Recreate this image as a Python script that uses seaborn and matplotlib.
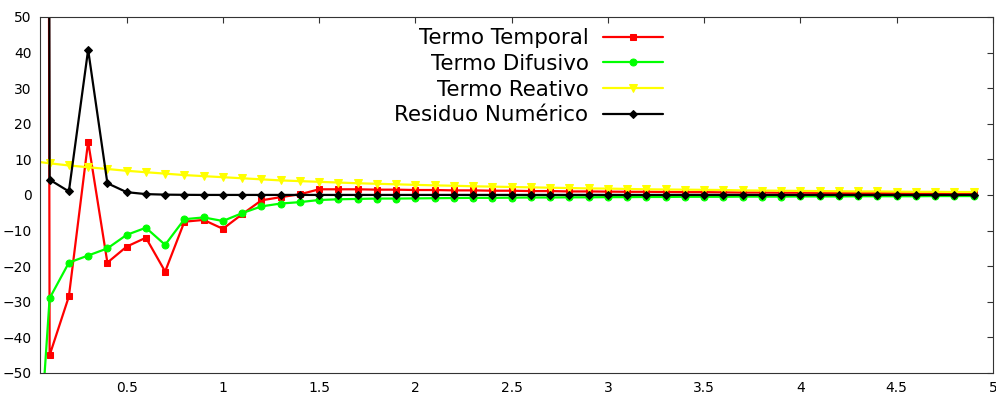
import numpy as np
import matplotlib
matplotlib.use("Agg")
import matplotlib.pyplot as plt
import seaborn as sns

# time grid (0.0 .. 4.9, step 0.1)
t = np.round(np.arange(0, 5.0, 0.1), 1)

temporal = [3000, -45, -28.5, 15, -19, -14.5, -12, -21.5, -7.5, -7, -9.5,
            -5.4, -1.5, -0.6, 0.2, 1.6, 1.6, 1.6, 1.5, 1.5, 1.4,
            1.4, 1.3, 1.3, 1.2, 1.2, 1.1, 1.1, 1.0, 1.0, 0.95,
            0.9, 0.9, 0.85, 0.8, 0.8, 0.75, 0.7, 0.7, 0.65, 0.65,
            0.6, 0.6, 0.55, 0.55, 0.5, 0.5, 0.5, 0.45, 0.45]

difusivo = [-110, -29, -19, -17, -15, -11.2, -9.2, -14, -6.8, -6.3, -7.3,
            -5.1, -3.2, -2.4, -2.0, -1.4, -1.2, -1.1, -1.0, -1.0, -0.95,
            -0.9, -0.85, -0.8, -0.8, -0.75, -0.7, -0.7, -0.65, -0.65, -0.6,
            -0.6, -0.55, -0.55, -0.5, -0.5, -0.5, -0.45, -0.45, -0.45, -0.4,
            -0.4, -0.4, -0.35, -0.35, -0.35, -0.35, -0.3, -0.3, -0.3]

reativo = [9.6, 8.9, 8.3, 7.8, 7.3, 6.8, 6.4, 6.0, 5.6, 5.3, 5.0,
           4.7, 4.4, 4.1, 3.9, 3.7, 3.5, 3.3, 3.15, 3.0, 2.85,
           2.7, 2.6, 2.45, 2.35, 2.25, 2.15, 2.05, 1.95, 1.85, 1.8,
           1.7, 1.6, 1.55, 1.5, 1.45, 1.4, 1.3, 1.25, 1.2, 1.15,
           1.1, 1.05, 1.0, 1.0, 0.95, 0.9, 0.9, 0.85, 0.85]

residuo = [3000, 4.3, 1.0, 40.8, 3.3, 0.8, 0.25, 0.1, 0.05, 0.02, 0.02,
           0.02, 0.02, 0.02, 0.02, 0.02, 0.02, 0.02, 0.02, 0.02, 0.02,
           0.02, 0.02, 0.02, 0.02, 0.02, 0.02, 0.02, 0.02, 0.02, 0.02,
           0.02, 0.02, 0.02, 0.02, 0.02, 0.02, 0.02, 0.02, 0.02, 0.02,
           0.02, 0.02, 0.02, 0.02, 0.02, 0.02, 0.02, 0.02, 0.02]

series = [
    ("Termo Temporal", temporal, "#ff0000", "s", 5),
    ("Termo Difusivo", difusivo, "#00ff00", "o", 5),
    ("Termo Reativo", reativo, "#ffff00", "v", 6),
    ("Residuo Numérico", residuo, "#000000", "D", 4),
]

sns.set_style("white")
plt.rcParams['font.family'] = ['DejaVu Sans']
plt.rcParams['text.color'] = 'black'

fig = plt.figure(figsize=(9.96, 3.94), dpi=100)
ax = fig.add_axes([40 / 996, 21 / 394, 953 / 996, 356 / 394])

for name, vals, col, mk, ms in series:
    sns.lineplot(x=t, y=vals, ax=ax, color=col, marker=mk, markersize=ms,
                 markeredgecolor=col, linewidth=1.6, label=name, sort=True)

ax.set_xlim(0.05, 5)
ax.set_ylim(-50, 50)
ax.set_xticks([0.5, 1, 1.5, 2, 2.5, 3, 3.5, 4, 4.5, 5])
ax.set_xticklabels(["0.5", "1", "1.5", "2", "2.5", "3", "3.5", "4", "4.5", "5"])
ax.set_yticks(np.arange(-50, 51, 10))
ax.tick_params(direction='in', length=4, width=0.8, top=True, right=True,
               labelsize=10, colors='#333333', labelcolor='black', pad=6)
for sp in ax.spines.values():
    sp.set_color('#333333')
    sp.set_linewidth(0.8)

leg = ax.legend(loc='upper right', bbox_to_anchor=(0.654, 0.969), frameon=False,
                markerfirst=False, fontsize=15.4, handlelength=2.8,
                handletextpad=0.7, labelspacing=0.27, borderaxespad=0,
                borderpad=0)
for txt in leg.get_texts():
    txt.set_color('black')

fig.savefig("out.png", dpi=100)
